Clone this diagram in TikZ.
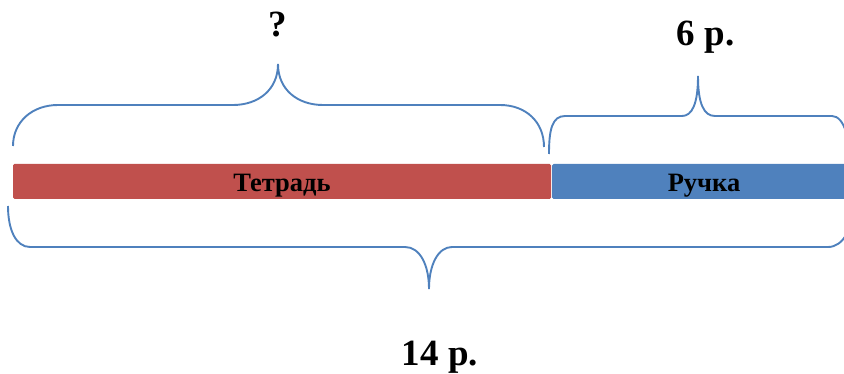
\documentclass[tikz,border=0pt]{standalone}
\usepackage{fontspec}
\setmainfont{Liberation Serif}
\definecolor{bracecol}{HTML}{4F81BD}
\definecolor{redbar}{HTML}{C0504D}
\definecolor{bluebar}{HTML}{4F81BD}
\tikzset{lbl/.style={font=\bfseries\fontsize{37}{40}\selectfont,text=black,inner sep=0pt,anchor=base},
barlbl/.style={font=\bfseries\fontsize{26.5}{28}\selectfont,text=black,inner sep=0pt,anchor=base},
brace/.style={draw=bracecol,line width=1.9pt}}
\begin{document}
\begin{tikzpicture}[x=1pt,y=-1pt]
\useasboundingbox (0,0) rectangle (844,374);
\fill[redbar,rounded corners=1.5pt] (13,164) rectangle (551,199);
\fill[bluebar,rounded corners=1.5pt] (552,164) rectangle (846,199);
\node[barlbl] (t) at (282,192) {Тетрадь};
\node[barlbl] (r) at (704,192) {Ручка};
\node[lbl] (q) at (278,37) {?};
\node[lbl] (six) at (705.5,46) {6 р.};
\node[lbl] (ft) at (440,365) {14 р.};
\draw[brace] (13,146) .. controls (13,122) and (32,105) .. (58,105) -- (233,105) .. controls (258,105) and (278,90) .. (278,64) .. controls (278,90) and (298,105) .. (323,105) -- (500,105) .. controls (526,105) and (544,122) .. (544,147);
\draw[brace] (549,154) .. controls (549,130) and (552,116) .. (565,116) -- (682,116) .. controls (692,116) and (698,104) .. (698,76) .. controls (698,104) and (704,116) .. (715,116) -- (832,116) .. controls (838,116) and (843,122) .. (846,132);
\draw[brace] (8,206) .. controls (8,230) and (16,247) .. (30,247) -- (405,247) .. controls (420,247) and (429,265) .. (429,289) .. controls (429,265) and (438,247) .. (452,247) -- (828,247) .. controls (836,247) and (842,242) .. (846,235);
\end{tikzpicture}
\end{document}
